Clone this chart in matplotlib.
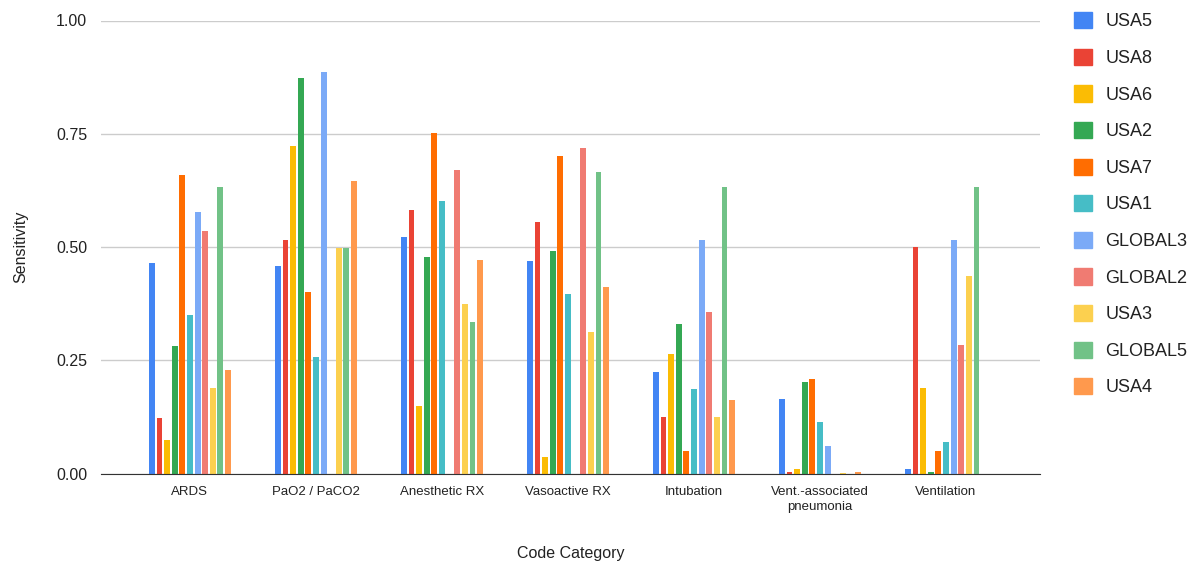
import numpy as np
import matplotlib.pyplot as plt
import matplotlib.patches as mpatches

plt.rcParams['font.family'] = ['Liberation Sans', 'DejaVu Sans']

categories = ['ARDS', 'PaO2 / PaCO2', 'Anesthetic RX', 'Vasoactive RX',
              'Intubation', 'Vent.-associated\npneumonia', 'Ventilation']
series = ['USA5', 'USA8', 'USA6', 'USA2', 'USA7', 'USA1',
          'GLOBAL3', 'GLOBAL2', 'USA3', 'GLOBAL5', 'USA4']
colors = ['#4285F4', '#EA4335', '#FBBC04', '#34A853', '#FF6D01', '#46BDC6',
          '#7BAAF7', '#F07B72', '#FCD04F', '#71C287', '#FF994D']

nan = np.nan
# one list per series, values across categories
usa5 = [0.464, 0.458, 0.521, 0.468, 0.225, 0.165, 0.010]
usa8 = [0.122, 0.515, 0.582, 0.556, 0.124, 0.004, 0.501]
usa6 = [0.074, 0.724, 0.148, 0.037, 0.263, 0.010, 0.188]
usa2 = [0.282, 0.872, 0.478, 0.492, 0.329, 0.202, 0.004]
usa7 = [0.660, 0.400, 0.751, 0.701, 0.050, 0.209, 0.050]
usa1 = [0.350, 0.258, 0.602, 0.397, 0.186, 0.114, 0.070]
global3 = [0.577, 0.886, nan, nan, 0.515, 0.061, 0.515]
global2 = [0.536, nan, 0.670, 0.718, 0.357, nan, 0.283]
usa3 = [0.188, 0.498, 0.374, 0.313, 0.124, 0.002, 0.437]
global5 = [0.633, 0.498, 0.334, 0.666, 0.633, nan, 0.633]
usa4 = [0.228, 0.646, 0.471, 0.411, 0.162, 0.004, nan]
values = [usa5, usa8, usa6, usa2, usa7, usa1, global3, global2, usa3, global5, usa4]

fig = plt.figure(figsize=(11.95, 5.64), dpi=100)
ax = fig.add_axes([101 / 1195, 1 - 473.5 / 564, 939 / 1195, 453 / 564])

x = np.arange(len(categories))
step = 0.0605
width = 0.047
for i, (name, vals, c) in enumerate(zip(series, values, colors)):
    offs = (i - (len(series) - 1) / 2) * step
    ax.bar(x + offs, vals, width, color=c, label=name, zorder=3)

ax.set_xlim(-0.706, 6.746)
ax.set_ylim(0, 1.0)
ax.set_yticks([0, 0.25, 0.5, 0.75, 1.0])
ax.set_yticklabels(['0.00', '0.25', '0.50', '0.75', '1.00'], fontsize=11.5, color='#222222')
ax.set_xticks(x)
ax.set_xticklabels(categories, fontsize=9.5, color='#222222', linespacing=1.3)
ax.tick_params(axis='both', length=0)
ax.tick_params(axis='y', pad=10)
ax.tick_params(axis='x', pad=9)
ax.grid(axis='y', color='#cccccc', linewidth=1, zorder=0)
for s in ['top', 'right', 'left']:
    ax.spines[s].set_visible(False)
ax.spines['bottom'].set_color('#333333')
ax.spines['bottom'].set_zorder(4)

ax.set_ylabel('Sensitivity', fontsize=11.5, color='#222222', labelpad=20)
ax.set_xlabel('Code Category', fontsize=11.5, color='#222222', labelpad=24)

# legend down the right side
handles = [mpatches.Patch(color=c, label=n) for n, c in zip(series, colors)]
fig.legend(handles=handles, loc='upper left', bbox_to_anchor=(1067 / 1195, 1 - 5 / 564),
           frameon=False, fontsize=13, handlelength=1.0, handleheight=1.0,
           handletextpad=0.72, labelspacing=1.015, borderaxespad=0,
           labelcolor='#222222')

plt.savefig('out.png', dpi=100)
